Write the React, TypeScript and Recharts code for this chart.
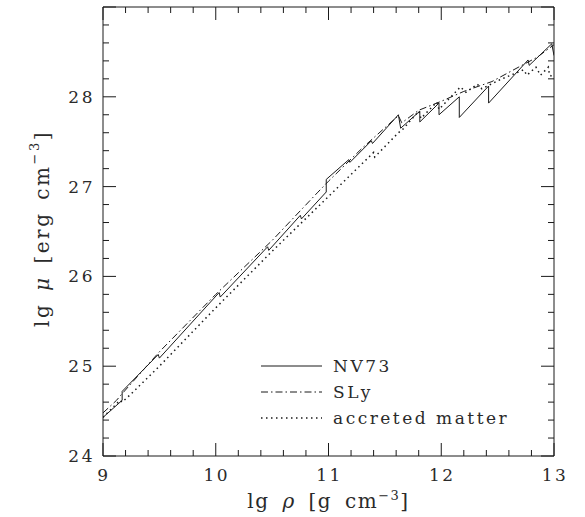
import React from 'react';
import { ComposedChart, Line, XAxis, YAxis, Legend } from 'recharts';

const FONT = '"DejaVu Serif", serif';
const INK = '#1a1a1a';
const TEXT = '#2a2a2a';

// axis labels (lg rho, lg mu)
const xLabels = [9, 10, 11, 12, 13];
const yLabels = [24, 25, 26, 27, 28];
const xDomain = [9, 13];
const yDomain = [24, 29];
const minorStep = 0.2;

// NV73 (solid)
const nv73Rho = [9.0, 9.17, 9.17, 9.49, 9.5, 10.03, 10.04, 10.46, 10.47, 10.75, 10.76, 10.98, 10.98, 11.18, 11.19, 11.38, 11.39, 11.62, 11.64, 11.81, 11.81, 11.98, 11.98, 12.16, 12.16, 12.42, 12.42, 12.77, 12.78, 12.98, 13.0];
const nv73Mu = [24.43, 24.62, 24.72, 25.13, 25.09, 25.82, 25.77, 26.33, 26.29, 26.68, 26.64, 26.94, 27.08, 27.3, 27.27, 27.51, 27.48, 27.8, 27.65, 27.84, 27.72, 27.93, 27.8, 28.0, 27.77, 28.12, 27.93, 28.41, 28.35, 28.59, 28.46];

// SLy (dash-dot)
const slyRho = [9.0, 9.12, 9.16, 9.5, 10.0, 10.5, 10.9, 11.0, 11.3, 11.62, 11.65, 11.8, 12.0, 12.2, 12.45, 12.7, 12.85, 13.0];
const slyMu = [24.48, 24.62, 24.68, 25.16, 25.8, 26.4, 26.93, 27.06, 27.43, 27.79, 27.71, 27.85, 27.95, 28.06, 28.17, 28.34, 28.44, 28.58];

// accreted matter (dotted)
const accRho = [9.0, 9.15, 9.17, 9.24, 9.5, 10.0, 10.5, 11.0, 11.4, 11.41, 11.62, 11.66, 11.8, 11.82, 11.96, 11.98, 12.17, 12.22, 12.32, 12.36, 12.52, 12.73, 12.76, 12.84, 12.88, 12.95, 12.96, 13.0];
const accMu = [24.43, 24.62, 24.6, 24.68, 25.0, 25.65, 26.28, 26.89, 27.38, 27.33, 27.6, 27.64, 27.84, 27.76, 27.94, 27.86, 28.11, 28.05, 28.14, 28.09, 28.19, 28.3, 28.24, 28.33, 28.24, 28.33, 28.24, 28.22];

const toPoints = (rho: number[], mu: number[]) => rho.map((r, i) => ({ rho: r, mu: mu[i] }));
const nv73 = toPoints(nv73Rho, nv73Mu);
const sly = toPoints(slyRho, slyMu);
const accreted = toPoints(accRho, accMu);

const makeTicks = (from: number, to: number) => {
  const n = Math.round((to - from) / minorStep);
  return Array.from({ length: n + 1 }, (_, i) => +(from + i * minorStep).toFixed(1));
};
const xTicks = makeTicks(xDomain[0], xDomain[1]);
const yTicks = makeTicks(yDomain[0], yDomain[1]);

const isMajor = (v: number) => Math.abs(v - Math.round(v)) < 1e-6;

const AxisTick = (props: any) => {
  const { x, y, payload, side } = props;
  const v = payload.value;
  const len = isMajor(v) ? 13 : 6;
  const textStyle = { fontFamily: FONT, fontSize: 17, letterSpacing: 2.5, fill: TEXT };
  if (side === 'bottom') {
    return (
      <g>
        <line x1={x} y1={y} x2={x} y2={y - len} stroke={INK} />
        {xLabels.some((l) => Math.abs(l - v) < 1e-6) && (
          <text x={x + 1} y={y + 25} textAnchor="middle" style={textStyle}>{v}</text>
        )}
      </g>
    );
  }
  if (side === 'top') return <line x1={x} y1={y} x2={x} y2={y + len} stroke={INK} />;
  if (side === 'left') {
    return (
      <g>
        <line x1={x} y1={y} x2={x + len} y2={y} stroke={INK} />
        {yLabels.some((l) => Math.abs(l - v) < 1e-6) && (
          <text x={x - 8} y={y + 6} textAnchor="end" style={textStyle}>{v}</text>
        )}
      </g>
    );
  }
  return <line x1={x} y1={y} x2={x - len} y2={y} stroke={INK} />;
};

const titleStyle = { fontFamily: FONT, fontSize: 20, fill: TEXT };

const XTitle = (props: any) => {
  const vb = props.viewBox;
  return (
    <text x={vb.x + vb.width / 2} y={vb.y + 52} textAnchor="middle"
      style={{ ...titleStyle, letterSpacing: 1.5, wordSpacing: 5 }}>
      lg <tspan fontStyle="italic">ρ</tspan> [g cm<tspan fontSize={13} dy={-8}>−3</tspan><tspan dy={8}>]</tspan>
    </text>
  );
};

const YTitle = (props: any) => {
  const vb = props.viewBox;
  const cx = 42;
  const cy = vb.y + vb.height / 2 - 3;
  return (
    <text x={cx} y={cy} transform={`rotate(-90 ${cx} ${cy})`} textAnchor="middle" dominantBaseline="central"
      style={{ ...titleStyle, letterSpacing: 2.5, wordSpacing: 3 }}>
      lg <tspan fontStyle="italic">μ</tspan> [erg cm<tspan fontSize={13} dy={-8}>−3</tspan><tspan dy={8}>]</tspan>
    </text>
  );
};

const legendItems = [
  { name: 'NV73', dash: undefined as string | undefined, width: 1 },
  { name: 'SLy', dash: '7 3 1.5 3', width: 1 },
  { name: 'accreted matter', dash: '1.5 3.5', width: 1.5 },
];

const renderLegend = () => (
  <svg width={290} height={80}>
    {legendItems.map((it, i) => {
      const cy = 14 + i * 26;
      return (
        <g key={it.name}>
          <line x1={6} y1={cy} x2={67} y2={cy} stroke={INK} strokeWidth={it.width} strokeDasharray={it.dash} />
          <text x={78} y={cy + 6} style={{ fontFamily: FONT, fontSize: 17, letterSpacing: 2.5, fill: TEXT }}>{it.name}</text>
        </g>
      );
    })}
  </svg>
);

const App: React.FC = () => {
  return (
    <div style={{ position: 'absolute', left: 0, top: 0, background: '#fff' }}>
      <ComposedChart width={585} height={517} margin={{ top: 0, right: 0, bottom: 0, left: 0 }}>
        <XAxis xAxisId="bottom" dataKey="rho" type="number" domain={xDomain} ticks={xTicks} interval={0}
          allowDataOverflow height={61} tickSize={0} tickMargin={0} tickLine={false}
          axisLine={{ stroke: INK }} tick={(p: any) => <AxisTick {...p} side="bottom" />}
          label={{ content: (p: any) => <XTitle {...p} /> }} />
        <XAxis xAxisId="top" orientation="top" dataKey="rho" type="number" domain={xDomain} ticks={xTicks} interval={0}
          allowDataOverflow height={7} tickSize={0} tickMargin={0} tickLine={false}
          axisLine={{ stroke: INK }} tick={(p: any) => <AxisTick {...p} side="top" />} />
        <YAxis yAxisId="left" type="number" domain={yDomain} ticks={yTicks} interval={0}
          allowDataOverflow width={103} tickSize={0} tickMargin={0} tickLine={false}
          axisLine={{ stroke: INK }} tick={(p: any) => <AxisTick {...p} side="left" />}
          label={{ content: (p: any) => <YTitle {...p} /> }} />
        <YAxis yAxisId="right" orientation="right" type="number" domain={yDomain} ticks={yTicks} interval={0}
          allowDataOverflow width={31} tickSize={0} tickMargin={0} tickLine={false}
          axisLine={{ stroke: INK }} tick={(p: any) => <AxisTick {...p} side="right" />} />
        <Legend layout="horizontal" verticalAlign="middle" align="center" content={renderLegend}
          wrapperStyle={{ position: 'absolute', left: 255, top: 352, width: 290, height: 80 }} />
        <Line xAxisId="bottom" yAxisId="left" data={nv73} dataKey="mu" name="NV73" type="linear"
          stroke={INK} strokeWidth={1} dot={false} activeDot={false} isAnimationActive={false} />
        <Line xAxisId="bottom" yAxisId="left" data={sly} dataKey="mu" name="SLy" type="linear"
          stroke={INK} strokeWidth={1} strokeDasharray="7 3 1.5 3" dot={false} activeDot={false} isAnimationActive={false} />
        <Line xAxisId="bottom" yAxisId="left" data={accreted} dataKey="mu" name="accreted matter" type="linear"
          stroke={INK} strokeWidth={1.5} strokeDasharray="1.5 3.5" dot={false} activeDot={false} isAnimationActive={false} />
      </ComposedChart>
    </div>
  );
};

export default App;
